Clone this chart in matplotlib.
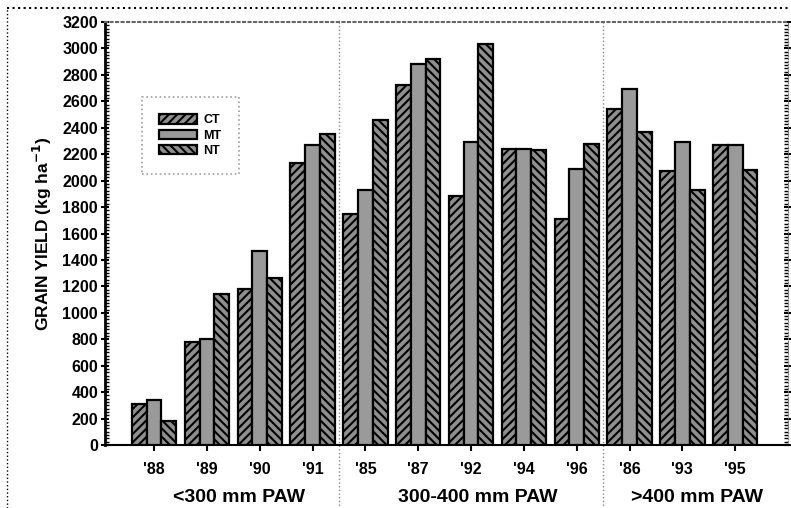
import matplotlib
matplotlib.use('Agg')
import matplotlib.pyplot as plt
import matplotlib.transforms as mtransforms
from matplotlib.lines import Line2D
from matplotlib.ticker import MultipleLocator
import numpy as np

years = ["'88", "'89", "'90", "'91", "'85", "'87", "'92", "'94", "'96", "'86", "'93", "'95"]
ct = [310, 780, 1180, 2130, 1750, 2720, 1880, 2240, 1710, 2540, 2070, 2270]
mt = [340, 800, 1470, 2270, 1930, 2880, 2290, 2240, 2090, 2690, 2290, 2270]
nt = [180, 1140, 1260, 2350, 2460, 2920, 3030, 2230, 2280, 2370, 1930, 2080]
groups = ['<300 mm PAW', '300-400 mm PAW', '>400 mm PAW']
group_pos = [2.61, 7.12, 11.28]
separators = [4.5, 9.5]

plt.rcParams['font.family'] = ['Liberation Sans', 'DejaVu Sans']
plt.rcParams['font.weight'] = 'bold'
plt.rcParams['hatch.linewidth'] = 1.5

fig = plt.figure(figsize=(7.91, 5.08), dpi=100)
ax = fig.add_axes([0.1327, 0.124, 0.8635, 0.8327])

x = np.arange(1, len(years) + 1)
w = 0.28
gray = '#8f8f8f'
ax.bar(x - w, ct, w, color=gray, edgecolor='black', linewidth=1.6, hatch='////', label='CT', zorder=3)
ax.bar(x, mt, w, color='#9a9a9a', edgecolor='black', linewidth=1.6, label='MT', zorder=3)
ax.bar(x + w, nt, w, color=gray, edgecolor='black', linewidth=1.6, hatch='\\\\\\\\', label='NT', zorder=3)

ax.set_xlim(0.07, 13.0)
ax.set_ylim(0, 3200)
ax.yaxis.set_major_locator(MultipleLocator(200))
ax.yaxis.set_minor_locator(MultipleLocator(25))
ax.tick_params(axis='y', which='major', direction='inout', length=6, width=1.5, labelsize=11.5,
               right=True, pad=2)
ax.tick_params(axis='y', which='minor', direction='in', length=3, width=1, right=True)
ax.set_xticks(x)
ax.set_xticklabels(years)
ax.tick_params(axis='x', direction='out', length=4, width=1.5, labelsize=11.5, pad=8)
for lbl in ax.get_xticklabels() + ax.get_yticklabels():
    lbl.set_fontweight('bold')

ax.spines['left'].set_linewidth(2)
ax.spines['bottom'].set_linewidth(1.5)
ax.spines['top'].set_linestyle(':')
ax.spines['top'].set_color('#666666')
ax.spines['top'].set_linewidth(1.5)
ax.spines['right'].set_linestyle(':')
ax.spines['right'].set_color('#777777')

ax.set_ylabel('GRAIN YIELD (kg ha$^{\\mathbf{-1}}$)', fontsize=12.5, fontweight='bold', labelpad=6)

trans = mtransforms.blended_transform_factory(ax.transData, ax.transAxes)
for s in separators:
    ax.plot([s, s], [-0.16, 1], transform=trans, color='#888888', linestyle=':',
            linewidth=1, clip_on=False, zorder=1)

for g, p in zip(groups, group_pos):
    ax.text(p, -0.125, g, transform=trans, ha='center', va='center', fontsize=14, fontweight='bold')

leg = ax.legend(loc='upper left', bbox_to_anchor=(0.054, 0.823), fontsize=9, frameon=True,
                fancybox=False, handlelength=3.0, handleheight=0.8, labelspacing=0.25,
                borderpad=1.4, borderaxespad=0, handletextpad=0.5)
leg.get_frame().set_edgecolor('#888888')
leg.get_frame().set_linestyle(':')
leg.get_frame().set_linewidth(1.2)

fig.add_artist(Line2D([0.009, 0.009], [0, 0.985], transform=fig.transFigure, color='black',
                      linestyle=':', linewidth=1))
fig.add_artist(Line2D([0.009, 1], [0.985, 0.985], transform=fig.transFigure, color='black',
                      linestyle=':', linewidth=1.5))

fig.savefig('out.png', dpi=100)
